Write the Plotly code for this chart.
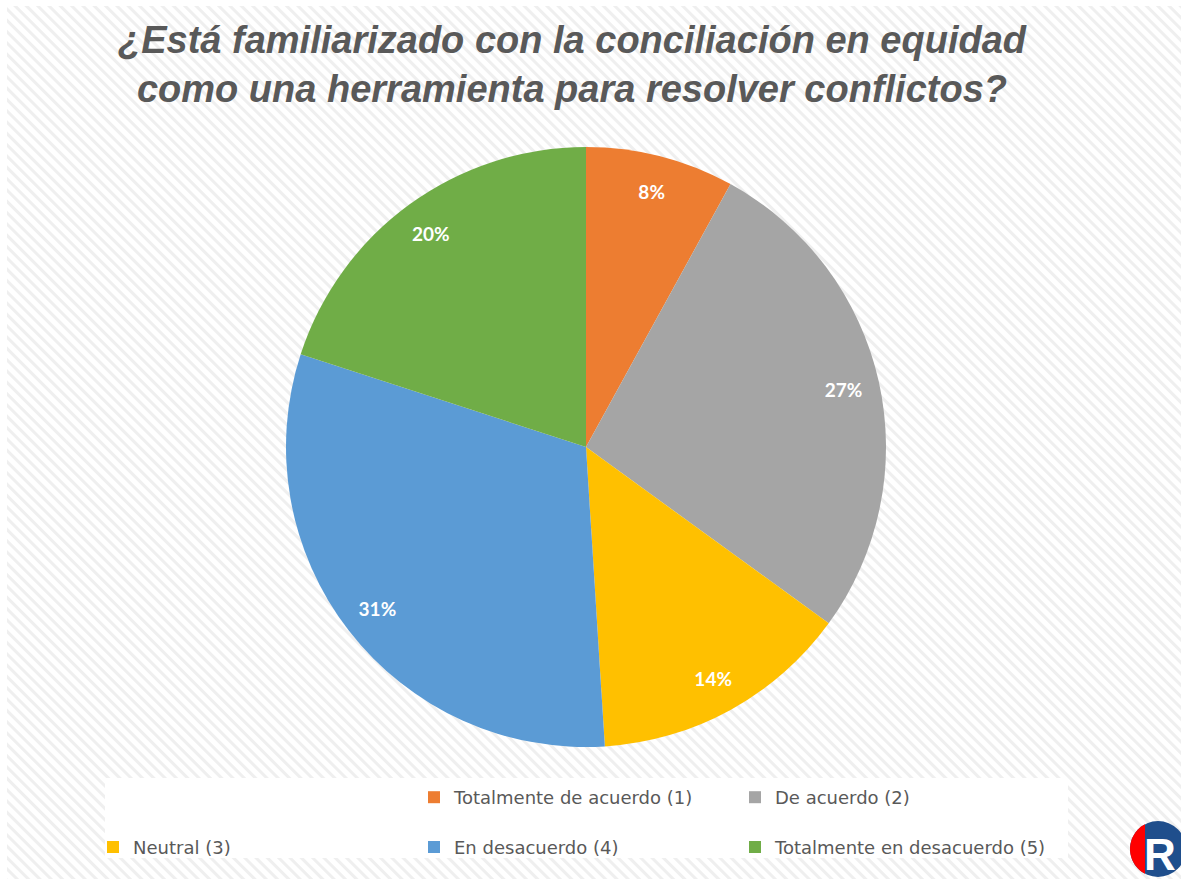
import base64
import math
import plotly.graph_objects as go

# ---- data ----
categories = [
    "Totalmente de acuerdo (1)",
    "De acuerdo (2)",
    "Neutral (3)",
    "En desacuerdo (4)",
    "Totalmente en desacuerdo (5)",
]
values = [8, 27, 14, 31, 20]
colors = ["#ED7D31", "#A5A5A5", "#FFC000", "#5B9BD5", "#70AD47"]
title_text = "¿Está familiarizado con la conciliación en equidad<br>como una herramienta para resolver conflictos?"

W, H = 1181, 879

# ---- hatched background as inline SVG ----
svg = f'''<svg xmlns="http://www.w3.org/2000/svg" width="{W}" height="{H}">
<defs><pattern id="p" width="8" height="8" patternUnits="userSpaceOnUse" patternTransform="rotate(45)">
<rect width="8" height="8" fill="#ffffff"/><rect width="8" height="3" fill="#efefef"/></pattern></defs>
<rect x="0" y="0" width="{W}" height="{H}" fill="#ffffff"/>
<rect x="7" y="6" width="{W-7}" height="{H-6}" fill="url(#p)"/>
</svg>'''
bg_src = "data:image/svg+xml;base64," + base64.b64encode(svg.encode()).decode()

pie_domain = dict(x=[286 / W, 886 / W], y=[(H - 747) / H, (H - 147) / H])

fig = go.Figure()

# invisible two-line spacer legend entry (indents first legend row, sets row spacing)
fig.add_trace(go.Scatter(
    x=[None], y=[None], mode="markers", name="&nbsp;<br>&nbsp;",
    marker=dict(color="rgba(0,0,0,0)", size=1), hoverinfo="skip", showlegend=True,
))

# main pie (colours + legend)
fig.add_trace(go.Pie(
    labels=categories, values=values, sort=False, direction="clockwise", rotation=0,
    marker=dict(colors=colors, line=dict(width=0)),
    textinfo="none",
    domain=pie_domain, showlegend=True,
))

# transparent ring over the pie that carries the percentage labels near the rim
fig.add_trace(go.Pie(
    labels=categories, values=values, sort=False, direction="clockwise", rotation=0,
    hole=0.76,
    marker=dict(colors=["rgba(0,0,0,0)"] * len(values), line=dict(width=0)),
    textinfo="percent", textposition="inside", insidetextorientation="horizontal",
    textfont=dict(family="Lato", size=19, color="white", weight="bold"),
    domain=pie_domain, showlegend=False, hoverinfo="skip",
))

fig.update_layout(
    width=W, height=H,
    margin=dict(l=0, r=0, t=0, b=0),
    paper_bgcolor="white", plot_bgcolor="rgba(0,0,0,0)",
    xaxis=dict(visible=False), yaxis=dict(visible=False),
    title=dict(
        text=title_text, x=572 / W, xanchor="center", y=1 - 53 / H, yanchor="top",
        font=dict(family="Liberation Sans", size=38, color="#595959", weight="bold", style="italic"),
    ),
    legend=dict(
        orientation="h", x=93 / W, xanchor="left", y=1 - 779 / H, yanchor="top",
        bgcolor="rgba(0,0,0,0)", entrywidth=276, entrywidthmode="pixels",
        font=dict(family="DejaVu Sans", size=18, color="#595959"),
        traceorder="normal",
    ),
    images=[dict(source=bg_src, xref="paper", yref="paper", x=0, y=1, sizex=1, sizey=1,
                 xanchor="left", yanchor="top", sizing="stretch", layer="below")],
)

# white legend panel
fig.add_shape(type="rect", xref="paper", yref="paper", layer="below",
              x0=105 / W, x1=1068 / W, y0=1 - 858 / H, y1=1 - 778 / H,
              fillcolor="white", line=dict(width=0))

# small logo in the bottom-right corner (decoration)
cx, cy, r = 1158, 849, 28
fig.add_shape(type="circle", xref="paper", yref="paper",
              x0=(cx - r) / W, x1=(cx + r) / W, y0=1 - (cy + r) / H, y1=1 - (cy - r) / H,
              fillcolor="#1F4E8C", line=dict(width=0))
cut = 1145
dy = math.sqrt(r * r - (cut - cx) ** 2)
a0 = math.atan2(-dy, cut - cx)
a1 = math.atan2(dy, cut - cx)
pts = []
n = 30
for i in range(n + 1):
    a = a1 + (a0 + 2 * math.pi - a1) * i / n if a0 < a1 else a1 + (a0 - a1) * i / n
    px = cx + r * math.cos(a)
    py = cy + r * math.sin(a)
    pts.append(f"{px / W:.5f},{1 - py / H:.5f}")
fig.add_shape(type="path", xref="paper", yref="paper",
              path="M " + " L ".join(pts) + " Z",
              fillcolor="#FF0000", line=dict(width=0))
fig.add_annotation(text="<b>R</b>", xref="paper", yref="paper", x=1142 / W, y=1 - 854 / H,
                   xanchor="left", yanchor="middle",
                   showarrow=False, font=dict(family="Liberation Sans", size=44, color="white"))

fig.write_html(
    "out.html",
    config={"displayModeBar": False},
    post_script="document.body.style.margin='0';document.body.style.overflow='hidden';",
)
